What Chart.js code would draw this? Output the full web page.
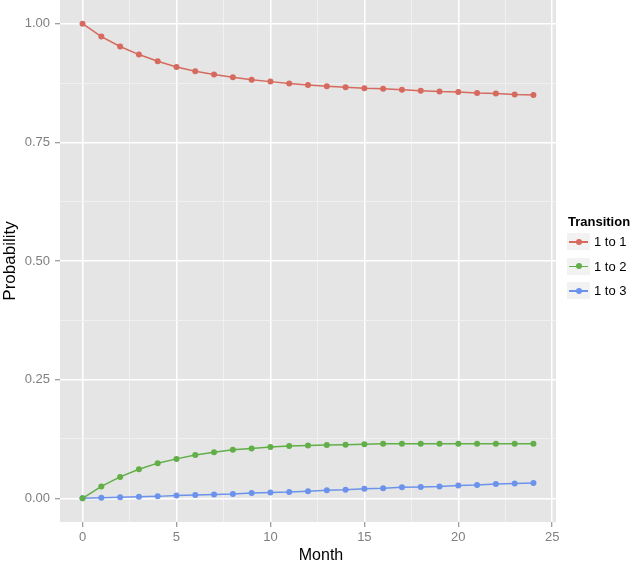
<!DOCTYPE html>
<html>
<head>
<meta charset="utf-8">
<script src="https://cdn.jsdelivr.net/npm/chart.js@4.4.1/dist/chart.umd.min.js"></script>
<style>
  html, body { margin: 0; padding: 0; background: #fff; }
  #wrap { position: relative; width: 630px; height: 564px; font-family: "Liberation Sans", Arial, sans-serif; }
  #c { position: absolute; left: 0; top: 0; }
  .lg-title { position: absolute; left: 568px; top: 213px; font-size: 13px; font-weight: bold; color: #000; line-height: 18px; white-space: nowrap; }
  .lg-key { position: absolute; left: 567px; width: 23px; height: 17px; background: #f2f2f2; }
  .lg-key .ln { position: absolute; left: 2px; right: 2px; top: 8px; height: 1.5px; }
  .lg-key .dt { position: absolute; left: 8.5px; top: 5.5px; width: 6px; height: 6px; border-radius: 50%; }
  .lg-txt { position: absolute; left: 594px; font-size: 13px; color: #000; line-height: 17px; white-space: nowrap; }
  #xt { position: absolute; top: 546px; left: 271px; width: 100px; text-align: center; font-size: 16px; color: #000; line-height: 18px; }
</style>
</head>
<body>
<div id="wrap">
  <canvas id="c" width="630" height="564"></canvas>
  <div id="xt">Month</div>
  <div id="legend"></div>
</div>
<script>
const months = [0,1,2,3,4,5,6,7,8,9,10,11,12,13,14,15,16,17,18,19,20,21,22,23,24];
const seriesNames = ["1 to 1", "1 to 2", "1 to 3"];
const p11 = [1.000,0.973,0.952,0.935,0.921,0.909,0.900,0.893,0.887,0.882,0.878,0.874,0.871,0.868,0.866,0.864,0.863,0.861,0.859,0.857,0.856,0.854,0.853,0.851,0.850];
const p12 = [0.000,0.025,0.045,0.061,0.074,0.083,0.091,0.097,0.102,0.105,0.108,0.110,0.111,0.112,0.113,0.114,0.115,0.115,0.115,0.115,0.115,0.115,0.115,0.115,0.115];
const p13 = [0.000,0.001,0.002,0.003,0.004,0.006,0.007,0.008,0.009,0.011,0.012,0.013,0.015,0.017,0.018,0.020,0.021,0.023,0.024,0.025,0.027,0.028,0.030,0.031,0.032];
const xMajor = [0,5,10,15,20,25];
const xMinor = [2.5,7.5,12.5,17.5,22.5];
const yMajor = [0,0.25,0.5,0.75,1];
const yMinor = [0.125,0.375,0.625,0.875];
const colors = ["#D66A5E", "#62AE47", "#6B93EC"];

const seriesValues = [p11, p12, p13];
const datasets = seriesValues.map((vals, i) => ({
  label: seriesNames[i],
  data: months.map((m, j) => ({x: m, y: vals[j]})),
  borderColor: colors[i],
  backgroundColor: colors[i],
  borderWidth: 1.5,
  pointRadius: 3,
  pointHoverRadius: 3,
  pointBorderWidth: 0,
  tension: 0
}));

function isMajor(list, v) { return list.some(m => Math.abs(m - v) < 1e-9); }

const panelBg = {
  id: 'panelBg',
  beforeDraw(chart) {
    const {ctx, chartArea: a} = chart;
    ctx.save();
    ctx.fillStyle = '#e5e5e5';
    ctx.fillRect(a.left, a.top, a.right - a.left, a.bottom - a.top);
    ctx.restore();
  }
};

const tickFont = { family: '"Liberation Sans", Arial, sans-serif', size: 13 };

new Chart(document.getElementById('c'), {
  type: 'line',
  data: { datasets },
  plugins: [panelBg],
  options: {
    responsive: false,
    animation: false,
    devicePixelRatio: 1,
    layout: { autoPadding: false, padding: { left: 0, right: 74, top: 0, bottom: 0 } },
    plugins: { legend: { display: false }, tooltip: { enabled: false } },
    scales: {
      x: {
        type: 'linear',
        min: -1.2, max: 25.2,
        afterBuildTicks(s) { s.ticks = xMajor.concat(xMinor).sort((a,b)=>a-b).map(v => ({value: v})); },
        afterFit(s) { s.height = 42; s.paddingLeft = 0; s.paddingRight = 0; },
        border: { display: false },
        grid: {
          drawOnChartArea: true,
          color: c => isMajor(xMajor, c.tick.value) ? '#ffffff' : '#f2f2f2',
          lineWidth: c => isMajor(xMajor, c.tick.value) ? 1.5 : 0.8,
          tickColor: c => isMajor(xMajor, c.tick.value) ? '#7f7f7f' : 'rgba(0,0,0,0)',
          tickLength: 5,
          tickWidth: 1
        },
        ticks: {
          autoSkip: false,
          maxRotation: 0,
          padding: 3,
          color: '#7f7f7f',
          font: tickFont,
          callback: v => isMajor(xMajor, v) ? String(v) : ''
        }
      },
      y: {
        type: 'linear',
        min: -0.05, max: 1.05,
        afterBuildTicks(s) { s.ticks = yMajor.concat(yMinor).sort((a,b)=>a-b).map(v => ({value: v})); },
        afterFit(s) { s.width = 60; s.paddingTop = 0; s.paddingBottom = 0; },
        border: { display: false },
        grid: {
          color: c => isMajor(yMajor, c.tick.value) ? '#ffffff' : '#f2f2f2',
          lineWidth: c => isMajor(yMajor, c.tick.value) ? 1.5 : 0.8,
          tickColor: c => isMajor(yMajor, c.tick.value) ? '#7f7f7f' : 'rgba(0,0,0,0)',
          tickLength: 5,
          tickWidth: 1
        },
        ticks: {
          autoSkip: false,
          padding: 5,
          color: '#7f7f7f',
          font: tickFont,
          callback: v => isMajor(yMajor, v) ? v.toFixed(2) : ''
        },
        title: {
          display: true,
          text: 'Probability',
          color: '#000',
          padding: { top: 0, bottom: 0 },
          font: { family: '"Liberation Sans", Arial, sans-serif', size: 17 }
        }
      }
    }
  }
});

// legend (HTML)
const lg = document.getElementById('legend');
let html = '<div class="lg-title">Transition</div>';
seriesNames.forEach((name, i) => {
  const top = 233 + i * 24.5;
  html += '<div class="lg-key" style="top:' + top + 'px"><div class="ln" style="background:' + colors[i] + '"></div><div class="dt" style="background:' + colors[i] + '"></div></div>';
  html += '<div class="lg-txt" style="top:' + top + 'px">' + name + '</div>';
});
lg.innerHTML = html;
</script>
</body>
</html>
